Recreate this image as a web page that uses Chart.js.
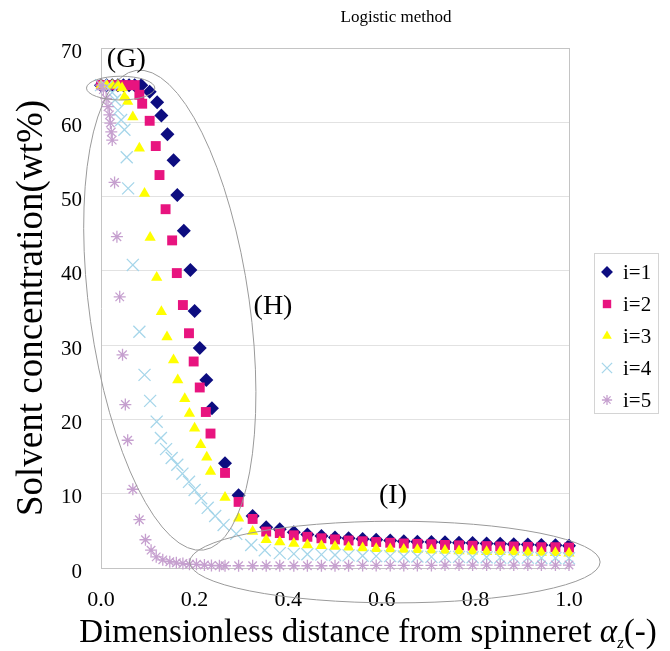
<!DOCTYPE html>
<html>
<head>
<meta charset="utf-8">
<script src="https://cdn.jsdelivr.net/npm/chart.js@4/dist/chart.umd.min.js"></script>
<style>
  html, body { margin: 0; padding: 0; background: #fff; }
  #chart { display: block; }
</style>
</head>
<body>
<canvas id="chart" width="670" height="651"></canvas>
<script>
// --- DATA ---
const chartTitle = 'Logistic method';
const seriesNames = ['i=1', 'i=2', 'i=3', 'i=4', 'i=5'];
const yTicks = [0, 10, 20, 30, 40, 50, 60, 70];
const xTicks = [0.0, 0.2, 0.4, 0.6, 0.8, 1.0];

// shared x positions of the flat tail (alpha_z > 0.4)
const tailX = [0.412, 0.441, 0.471, 0.500, 0.529, 0.559, 0.588, 0.618, 0.647, 0.676, 0.706,
               0.735, 0.765, 0.794, 0.824, 0.853, 0.882, 0.912, 0.941, 0.971, 1.000];

const headX1 = [0, 0.012, 0.024, 0.036, 0.048, 0.060, 0.072, 0.086, 0.104, 0.120, 0.129, 0.142, 0.155,
                0.163, 0.177, 0.191, 0.200, 0.211, 0.225, 0.237, 0.265, 0.294, 0.324, 0.353, 0.382];
const headY1 = [65.0, 65.0, 65.0, 65.0, 65.0, 65.0, 65.0, 65.0, 64.1, 62.7, 60.9, 58.4, 54.9,
                50.2, 45.4, 40.1, 34.6, 29.6, 25.3, 21.5, 14.1, 9.8, 7.0, 5.5, 5.2];
const tailY1 = [4.8, 4.5, 4.3, 4.1, 4.0, 3.9, 3.8, 3.7, 3.6, 3.55, 3.5, 3.45, 3.4, 3.35, 3.3, 3.25, 3.2, 3.15, 3.1, 3.05, 3.0];

const headX2 = [0, 0.012, 0.024, 0.036, 0.048, 0.060, 0.072, 0.082, 0.088, 0.104, 0.117, 0.125, 0.138,
                0.152, 0.162, 0.175, 0.188, 0.198, 0.211, 0.224, 0.234, 0.265, 0.294, 0.324, 0.353, 0.382];
const headY2 = [65.0, 65.0, 65.0, 65.0, 65.0, 65.0, 65.0, 63.7, 62.5, 60.2, 56.8, 52.9, 48.3,
                44.1, 39.7, 35.4, 31.6, 27.8, 24.3, 21.0, 18.1, 12.8, 8.9, 6.6, 4.9, 4.7];
const tailY2 = [4.4, 4.2, 4.0, 3.85, 3.7, 3.6, 3.5, 3.4, 3.3, 3.25, 3.2, 3.1, 3.05, 3.0, 2.95, 2.9, 2.9, 2.85, 2.8, 2.8, 2.75];

const headX3 = [0, 0.012, 0.024, 0.036, 0.045, 0.050, 0.057, 0.068, 0.082, 0.093, 0.105, 0.119, 0.129, 0.141,
                0.155, 0.164, 0.179, 0.189, 0.200, 0.213, 0.226, 0.234, 0.265, 0.294, 0.324, 0.353, 0.382];
const headY3 = [65.0, 65.0, 65.0, 65.0, 64.6, 63.4, 62.8, 60.7, 56.5, 50.4, 44.5, 39.1, 34.5, 31.1,
                28.0, 25.3, 22.8, 20.8, 18.8, 16.6, 14.9, 13.0, 9.5, 6.7, 4.9, 3.8, 3.5];
const tailY3 = [3.3, 3.1, 3.0, 2.9, 2.8, 2.7, 2.6, 2.55, 2.5, 2.45, 2.4, 2.35, 2.3, 2.25, 2.2, 2.2, 2.15, 2.1, 2.1, 2.05, 2.0];

const headX4 = [0, 0.012, 0.024, 0.030, 0.036, 0.043, 0.050, 0.055, 0.058, 0.068, 0.082, 0.093, 0.105, 0.119, 0.128,
                0.139, 0.151, 0.163, 0.174, 0.188, 0.200, 0.214, 0.228, 0.244, 0.262, 0.289, 0.321, 0.350, 0.382];
const headY4 = [65.0, 64.8, 64.0, 63.0, 61.6, 60.3, 59.0, 55.3, 51.1, 40.8, 31.8, 26.0, 22.5, 19.7, 17.5,
                16.0, 14.8, 13.9, 12.7, 11.6, 10.5, 9.4, 8.1, 7.0, 5.8, 4.6, 3.1, 2.4, 2.0];
const tailY4 = [1.9, 1.85, 1.8, 1.75, 1.7, 1.65, 1.6, 1.6, 1.55, 1.55, 1.5, 1.5, 1.5, 1.45, 1.45, 1.4, 1.4, 1.4, 1.35, 1.35, 1.3];

const headX5 = [0, 0.005, 0.011, 0.015, 0.018, 0.020, 0.022, 0.024, 0.029, 0.034, 0.040, 0.046, 0.052, 0.057, 0.068, 0.082,
                0.095, 0.107, 0.118, 0.132, 0.147, 0.161, 0.175, 0.189, 0.204, 0.221, 0.236, 0.253, 0.265, 0.294, 0.324, 0.353, 0.382];
const headY5 = [65.0, 64.4, 63.2, 62.1, 61.0, 59.9, 58.7, 57.6, 51.9, 44.6, 36.5, 28.7, 22.0, 17.2, 10.6, 6.5,
                3.8, 2.4, 1.5, 1.1, 0.85, 0.7, 0.6, 0.5, 0.5, 0.4, 0.35, 0.3, 0.3, 0.3, 0.3, 0.3, 0.3];
const tailY5 = [0.3, 0.3, 0.3, 0.3, 0.3, 0.35, 0.35, 0.35, 0.35, 0.35, 0.35, 0.4, 0.4, 0.4, 0.4, 0.4, 0.4, 0.4, 0.4, 0.4, 0.4];

// --- ANNOTATIONS (data coordinates) ---
const ellipses = [
  { cx: 0.042, cy: 64.6, rx: 0.073, ry: 1.6, rot: 0 },     // (G)
  { cx: 0.147, cy: 34.7, rx: 0.171, ry: 32.6, rot: -8 },   // (H)
  { cx: 0.628, cy: 0.8, rx: 0.4385, ry: 5.5, rot: 0 }      // (I)
];
const regionLabels = [
  { text: '(G)', x: 0.054, y: 68.4 },
  { text: '(H)', x: 0.3675, y: 35.2 },
  { text: '(I)', x: 0.624, y: 9.8 }
];

// --- STYLE ---
const SERIF = '"Liberation Serif", "Times New Roman", serif';
const styles = [
  { color: '#0d0d80', pointStyle: 'rectRot', radius: 7, borderWidth: 0 },
  { color: '#e8147f', pointStyle: 'rect', radius: 7, borderWidth: 0 },
  { color: '#ffff00', pointStyle: 'triangle', radius: 6.5, borderWidth: 0 },
  { color: '#a6d6ea', pointStyle: 'crossRot', radius: 8.5, borderWidth: 1.3 },
  { color: '#c6a0cf', pointStyle: 'star', radius: 6, borderWidth: 1.3 }
];
const GRID = '#e2e2e2';
const BORDER = '#c4c4c4';

const toPoints = (xs, ys) => xs.map((v, k) => ({ x: v, y: ys[k] }));
const allSeries = [
  toPoints(headX1.concat(tailX), headY1.concat(tailY1)),
  toPoints(headX2.concat(tailX), headY2.concat(tailY2)),
  toPoints(headX3.concat(tailX), headY3.concat(tailY3)),
  toPoints(headX4.concat(tailX), headY4.concat(tailY4)),
  toPoints(headX5.concat(tailX), headY5.concat(tailY5))
];

const datasets = allSeries.map((pts, k) => ({
  label: seriesNames[k],
  data: pts,
  pointStyle: styles[k].pointStyle,
  pointRadius: styles[k].radius,
  pointBorderWidth: styles[k].borderWidth,
  backgroundColor: styles[k].color,
  borderColor: styles[k].color,
  showLine: false,
  clip: false,
  order: seriesNames.length - k   // later series on top
}));

// --- PLUGIN: title, ellipses, region labels, x title, legend ---
const annotPlugin = {
  id: 'annot',
  afterDraw(chart) {
    const { ctx, scales: { x, y } } = chart;
    ctx.save();

    ctx.fillStyle = '#000';
    ctx.font = '17px ' + SERIF;
    ctx.textAlign = 'center';
    ctx.textBaseline = 'middle';
    ctx.fillText(chartTitle, 396, 18);

    // ellipses
    ctx.strokeStyle = '#9a9a9a';
    ctx.lineWidth = 1;
    ellipses.forEach(e => {
      const cx = x.getPixelForValue(e.cx);
      const cy = y.getPixelForValue(e.cy);
      const rx = Math.abs(x.getPixelForValue(e.cx + e.rx) - cx);
      const ry = Math.abs(y.getPixelForValue(e.cy + e.ry) - cy);
      ctx.beginPath();
      ctx.ellipse(cx, cy, rx, ry, e.rot * Math.PI / 180, 0, 2 * Math.PI);
      ctx.stroke();
    });

    // region labels
    ctx.font = '28px ' + SERIF;
    regionLabels.forEach(l => {
      ctx.fillText(l.text, x.getPixelForValue(l.x), y.getPixelForValue(l.y));
    });

    // x axis title with subscript
    const parts = [
      { t: 'Dimensionless distance from spinneret ', f: '33px ' + SERIF, dy: 0 },
      { t: 'α', f: 'italic 33px ' + SERIF, dy: 0 },
      { t: 'z', f: 'italic 17px ' + SERIF, dy: 6 },
      { t: '(-)', f: '33px ' + SERIF, dy: 0 }
    ];
    let total = 0;
    parts.forEach(p => { ctx.font = p.f; p.w = ctx.measureText(p.t).width; total += p.w; });
    let px = 368 - total / 2;
    ctx.textAlign = 'left';
    ctx.textBaseline = 'alphabetic';
    parts.forEach(p => {
      ctx.font = p.f;
      ctx.fillText(p.t, px, 642 + p.dy);
      px += p.w;
    });

    // legend
    const lx = 594, ly = 253, lw = 64, lh = 160;
    ctx.strokeStyle = '#d4d4d4';
    ctx.strokeRect(lx + 0.5, ly + 0.5, lw, lh);
    ctx.font = '21px ' + SERIF;
    ctx.textBaseline = 'middle';
    seriesNames.forEach((name, k) => {
      const cy = ly + 19 + k * 32;
      const s = styles[k];
      ctx.fillStyle = s.color;
      ctx.strokeStyle = s.color;
      ctx.lineWidth = s.borderWidth || 1;
      if (Chart.helpers && Chart.helpers.drawPoint) {
        Chart.helpers.drawPoint(ctx, { pointStyle: s.pointStyle, radius: s.radius * 0.85, rotation: 0, borderWidth: s.borderWidth }, lx + 13, cy);
      }
      ctx.fillStyle = '#000';
      ctx.fillText(name, lx + 29, cy + 1);
    });

    ctx.restore();
  }
};

new Chart(document.getElementById('chart'), {
  type: 'scatter',
  data: { datasets },
  options: {
    responsive: false,
    animation: false,
    devicePixelRatio: 1,
    layout: { padding: { left: 0, right: 101, top: 48, bottom: 0 } },
    plugins: { legend: { display: false }, tooltip: { enabled: false } },
    scales: {
      x: {
        type: 'linear',
        min: xTicks[0],
        max: xTicks[xTicks.length - 1],
        afterBuildTicks: s => { s.ticks = xTicks.map(v => ({ value: v })); },
        afterFit: s => { s.height = 83; },
        ticks: {
          color: '#000',
          font: { family: SERIF, size: 22 },
          padding: 19,
          maxRotation: 0,
          autoSkip: false,
          callback: v => Number(v).toFixed(1)
        },
        grid: {
          drawTicks: false,
          color: c => (c.tick && Math.abs(c.tick.value - 1) < 1e-9) ? BORDER : 'rgba(0,0,0,0)'
        },
        border: { color: BORDER }
      },
      y: {
        min: yTicks[0],
        max: yTicks[yTicks.length - 1],
        afterBuildTicks: s => { s.ticks = yTicks.map(v => ({ value: v })); },
        afterFit: s => { s.width = 101; },
        ticks: {
          color: '#000',
          font: { family: SERIF, size: 21 },
          padding: 19,
          labelOffset: 4
        },
        grid: {
          drawTicks: false,
          color: c => (c.tick && c.tick.value === 70) ? BORDER : GRID
        },
        border: { color: BORDER },
        title: {
          display: true,
          text: 'Solvent concentration(wt%)',
          color: '#000',
          font: { family: SERIF, size: 37 },
          padding: { top: 10, bottom: 0 }
        }
      }
    }
  },
  plugins: [annotPlugin]
});
</script>
</body>
</html>
